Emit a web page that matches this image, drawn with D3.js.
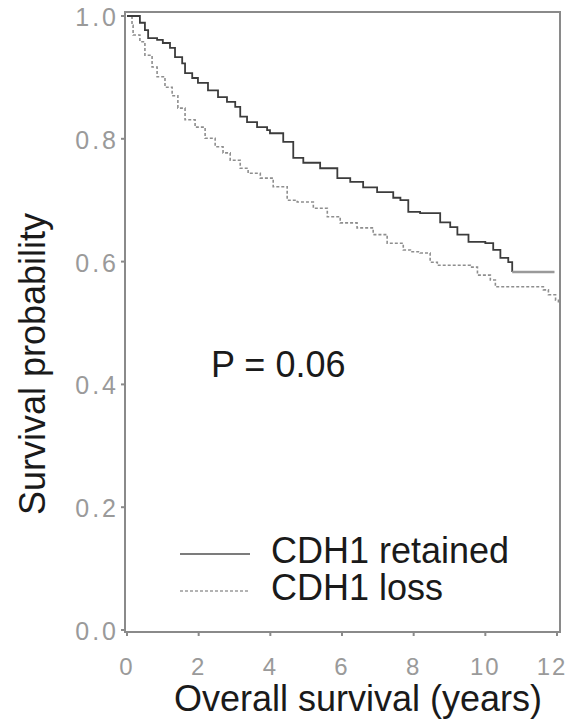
<!DOCTYPE html>
<html>
<head>
<meta charset="utf-8">
<script src="https://cdn.jsdelivr.net/npm/d3@7"></script>
<style>
  html, body { margin: 0; padding: 0; background: #fff; }
  svg { display: block; }
</style>
</head>
<body>
<svg id="chart" width="571" height="720"></svg>
<script>
// Kaplan-Meier estimates: time in years, survival probability
const retainedTime = [0, 0.36, 0.5, 0.59, 0.84, 1.0, 1.2, 1.34, 1.54, 1.62, 1.82, 1.98, 2.26, 2.54, 2.79, 3.02, 3.16, 3.35, 3.63, 3.91, 3.99, 4.36, 4.64, 4.92, 5.39, 5.87, 6.23, 6.59, 6.98, 7.43, 7.63, 7.85, 8.18, 8.74, 9.02, 9.22, 9.53, 10.0, 10.22, 10.42, 10.64, 10.75];
const retainedSurv = [1.0, 0.989, 0.977, 0.964, 0.961, 0.956, 0.948, 0.933, 0.923, 0.907, 0.899, 0.891, 0.879, 0.868, 0.860, 0.852, 0.836, 0.827, 0.819, 0.814, 0.809, 0.795, 0.769, 0.761, 0.752, 0.736, 0.730, 0.721, 0.713, 0.704, 0.700, 0.681, 0.679, 0.664, 0.656, 0.644, 0.632, 0.630, 0.619, 0.606, 0.599, 0.583];
// plateau after the last event in the retained group
const retainedTailTime = [10.75, 11.93];
const retainedTailSurv = [0.583, 0.583];

const lossTime = [0, 0.14, 0.17, 0.36, 0.5, 0.7, 0.84, 1.06, 1.26, 1.42, 1.62, 1.9, 2.18, 2.46, 2.68, 2.88, 3.16, 3.38, 3.72, 4.08, 4.47, 4.75, 5.2, 5.59, 5.95, 6.42, 6.87, 7.26, 7.71, 7.91, 8.18, 8.46, 8.66, 9.58, 9.78, 10.14, 10.28, 11.34, 11.62, 11.76, 11.96, 12.04];
const lossSurv = [1.0, 0.985, 0.969, 0.958, 0.936, 0.917, 0.901, 0.884, 0.870, 0.850, 0.831, 0.819, 0.801, 0.787, 0.777, 0.765, 0.752, 0.744, 0.736, 0.722, 0.700, 0.697, 0.687, 0.673, 0.663, 0.655, 0.644, 0.630, 0.619, 0.616, 0.614, 0.599, 0.594, 0.591, 0.578, 0.570, 0.559, 0.559, 0.554, 0.546, 0.537, 0.533];

const xTicks = [0, 2, 4, 6, 8, 10, 12];
const yTicks = [0.0, 0.2, 0.4, 0.6, 0.8, 1.0];
const yTickLabels = ["0.0", "0.2", "0.4", "0.6", "0.8", "1.0"];
const xTickLabels = ["0", "2", "4", "6", "8", "10", "12"];

const seriesNames = ["CDH1 retained", "CDH1 loss"];
const pText = "P = 0.06";
const xTitle = "Overall survival (years)";
const yTitle = "Survival probability";

const svg = d3.select("#chart");
const x = d3.scaleLinear().domain([0, 12]).range([127, 557]);
const y = d3.scaleLinear().domain([0, 1]).range([630, 16]);

const frame = { left: 125, right: 560, top: 12, bottom: 632 };
const axisColor = "#8a8a8a";
const tickColor = "#9a9a9a";
const bigFont = "'Liberation Sans', Arial, sans-serif";

// plot frame
svg.append("rect")
  .attr("x", frame.left).attr("y", frame.top)
  .attr("width", frame.right - frame.left)
  .attr("height", frame.bottom - frame.top)
  .attr("fill", "none").attr("stroke", axisColor).attr("stroke-width", 2);

// y axis ticks and labels
const yAxis = svg.append("g");
yTicks.forEach((v, i) => {
  yAxis.append("line")
    .attr("x1", frame.left - 4).attr("x2", frame.left)
    .attr("y1", y(v)).attr("y2", y(v))
    .attr("stroke", axisColor).attr("stroke-width", 2);
  yAxis.append("text")
    .attr("x", 119).attr("y", y(v) + 10)
    .attr("text-anchor", "end")
    .attr("font-family", bigFont)
    .attr("font-size", 25)
    .attr("letter-spacing", "3px")
    .attr("fill", tickColor)
    .text(yTickLabels[i]);
});

// x axis ticks and labels (last label kept inside the page)
const xAxis = svg.append("g");
xTicks.forEach((v, i) => {
  xAxis.append("line")
    .attr("x1", x(v)).attr("x2", x(v))
    .attr("y1", frame.bottom).attr("y2", frame.bottom + 4)
    .attr("stroke", axisColor).attr("stroke-width", 2);
  xAxis.append("text")
    .attr("x", Math.min(x(v), 552)).attr("y", 675)
    .attr("text-anchor", "middle")
    .attr("font-family", bigFont)
    .attr("font-size", 24)
    .attr("letter-spacing", "2px")
    .attr("fill", tickColor)
    .text(xTickLabels[i]);
});

// axis titles
svg.append("text")
  .attr("x", 358).attr("y", 711)
  .attr("text-anchor", "middle")
  .attr("font-family", bigFont).attr("font-size", 36)
  .attr("fill", "#1a1a1a")
  .text(xTitle);

svg.append("text")
  .attr("transform", "translate(45,364) rotate(-90)")
  .attr("text-anchor", "middle")
  .attr("font-family", bigFont).attr("font-size", 36)
  .attr("fill", "#1a1a1a")
  .text(yTitle);

// survival curves
const line = d3.line()
  .x(d => x(d[0])).y(d => y(d[1]))
  .curve(d3.curveStepAfter);

const lossData = lossTime.map((t, i) => [t, lossSurv[i]]);
const retainedData = retainedTime.map((t, i) => [t, retainedSurv[i]]);
const retainedTail = retainedTailTime.map((t, i) => [t, retainedTailSurv[i]]);

svg.append("path")
  .datum(lossData)
  .attr("d", line)
  .attr("fill", "none")
  .attr("stroke", "#8e8e8e")
  .attr("stroke-width", 1.6)
  .attr("stroke-dasharray", "3,2");

svg.append("path")
  .datum(retainedData)
  .attr("d", line)
  .attr("fill", "none")
  .attr("stroke", "#3c3c3c")
  .attr("stroke-width", 1.8);

svg.append("path")
  .datum(retainedTail)
  .attr("d", line)
  .attr("fill", "none")
  .attr("stroke", "#9a9a9a")
  .attr("stroke-width", 2.4);

// p-value annotation
svg.append("text")
  .attr("x", 211).attr("y", 377)
  .attr("font-family", bigFont).attr("font-size", 36)
  .attr("fill", "#1a1a1a")
  .text(pText);

// legend
const legend = svg.append("g");
const legendStyles = [
  { stroke: "#505050", width: 1.6, dash: null, y: 554 },
  { stroke: "#9a9a9a", width: 1.6, dash: "3,2", y: 591 }
];
seriesNames.forEach((name, i) => {
  const s = legendStyles[i];
  legend.append("line")
    .attr("x1", 180).attr("x2", 250)
    .attr("y1", s.y).attr("y2", s.y)
    .attr("stroke", s.stroke).attr("stroke-width", s.width)
    .attr("stroke-dasharray", s.dash);
  legend.append("text")
    .attr("x", 271).attr("y", s.y + 9)
    .attr("font-family", bigFont).attr("font-size", 36)
    .attr("fill", "#1a1a1a")
    .text(name);
});
</script>
</body>
</html>
